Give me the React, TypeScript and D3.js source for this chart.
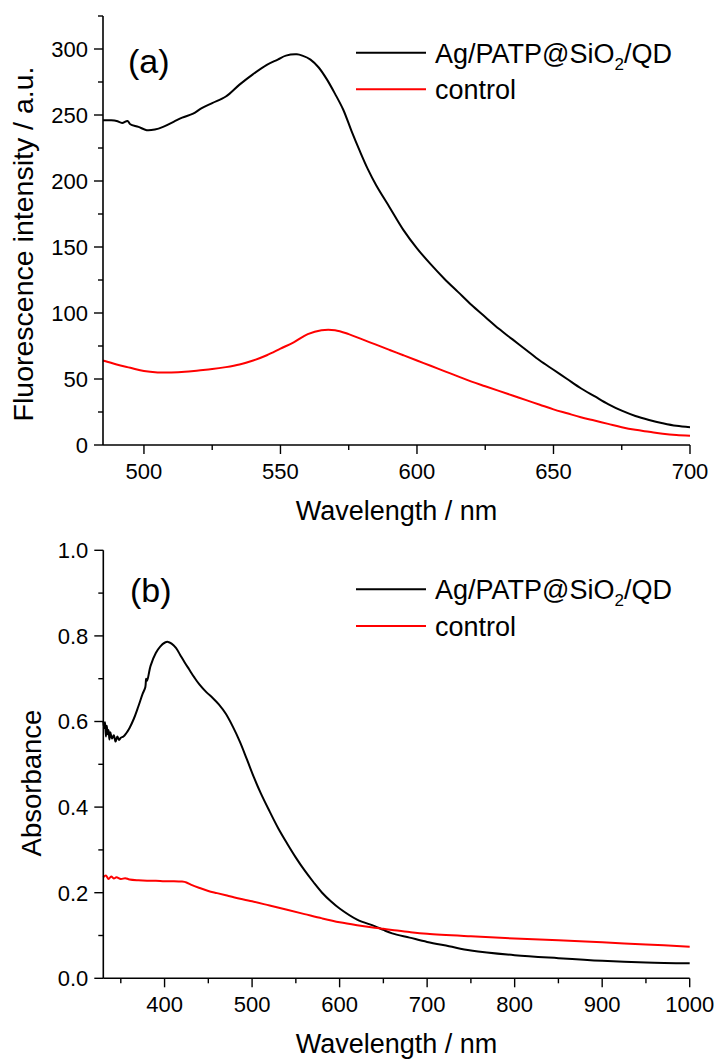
import React, { useEffect, useRef } from 'react';
import * as d3 from 'd3';

// ---- panel (a): fluorescence ----
const flWavelengthBlack = [485, 488, 490, 492, 494, 495, 498, 501, 504, 507, 511, 514, 518, 521, 525, 530, 535, 540, 545, 549, 552, 556, 558, 561, 564, 567, 570, 573, 576, 579, 582, 585, 590, 595, 600, 605, 610, 615, 620, 625, 630, 635, 640, 645, 650, 655, 660, 665, 670, 675, 680, 685, 690, 695, 700];
const flBlack = [246, 246, 245.5, 244, 245.5, 243, 241, 238.5, 239, 241, 245, 248, 251, 255, 259, 264, 273, 281, 288, 292, 295, 296, 295, 292, 286, 277, 266, 254, 238, 223, 209, 197, 180, 163, 149, 137, 126, 116, 106, 97, 88, 80, 72, 64, 57, 50, 43, 37, 31, 26, 22, 19, 16.5, 14.5, 13.5];
const flWavelengthRed = [485, 490, 495, 500, 505, 510, 515, 520, 525, 530, 535, 540, 545, 550, 555, 560, 565, 570, 575, 580, 585, 590, 595, 600, 605, 610, 615, 620, 625, 630, 635, 640, 645, 650, 655, 660, 665, 670, 675, 680, 685, 690, 695, 700];
const flRed = [64, 61, 58.5, 56, 55, 55, 55.5, 56.5, 57.5, 59, 61, 64, 68, 73, 78, 84, 87, 87, 84, 80, 76, 72, 68, 64, 60, 56, 52, 48, 44.5, 41, 37.5, 34, 30.5, 27, 24, 21, 18.5, 16, 13.5, 11.5, 10, 8.5, 7.5, 7];
const flXTicks = [500, 550, 600, 650, 700];
const flYTicks = [0, 50, 100, 150, 200, 250, 300];

// ---- panel (b): absorbance ----
const abWavelengthBlack = [330, 331, 332, 333, 334, 335, 336, 337, 338, 340, 342, 344, 346, 348, 350, 353, 356, 360, 365, 370, 375, 378, 379, 380, 384, 390, 395, 400, 404, 408, 413, 418, 423, 428, 434, 440, 448, 455, 462, 470, 478, 486, 494, 502, 510, 520, 530, 540, 550, 560, 570, 580, 590, 600, 620, 640, 650, 660, 680, 700, 725, 750, 800, 850, 900, 950, 1000];
const abBlack = [0.600, 0.585, 0.598, 0.565, 0.590, 0.570, 0.580, 0.558, 0.575, 0.560, 0.568, 0.553, 0.565, 0.557, 0.562, 0.565, 0.572, 0.585, 0.607, 0.635, 0.665, 0.680, 0.700, 0.695, 0.730, 0.760, 0.775, 0.784, 0.786, 0.782, 0.772, 0.755, 0.738, 0.722, 0.703, 0.686, 0.668, 0.655, 0.640, 0.618, 0.588, 0.553, 0.512, 0.470, 0.432, 0.390, 0.350, 0.315, 0.282, 0.252, 0.225, 0.200, 0.180, 0.163, 0.137, 0.122, 0.113, 0.105, 0.095, 0.085, 0.075, 0.065, 0.054, 0.047, 0.041, 0.037, 0.035];
const abWavelengthRed = [330, 333, 336, 339, 342, 345, 350, 355, 360, 370, 380, 390, 400, 410, 420, 425, 430, 440, 450, 460, 470, 480, 500, 520, 540, 560, 580, 600, 620, 640, 650, 660, 680, 700, 750, 800, 850, 900, 950, 1000];
const abRed = [0.236, 0.240, 0.232, 0.238, 0.233, 0.236, 0.232, 0.234, 0.231, 0.229, 0.228, 0.228, 0.227, 0.227, 0.226, 0.224, 0.219, 0.211, 0.204, 0.199, 0.194, 0.189, 0.180, 0.170, 0.160, 0.150, 0.140, 0.131, 0.124, 0.118, 0.1155, 0.113, 0.108, 0.104, 0.098, 0.093, 0.089, 0.084, 0.079, 0.074];
const abXTicks = [400, 500, 600, 700, 800, 900, 1000];
const abYTicks = [0, 0.2, 0.4, 0.6, 0.8, 1.0];

const seriesNames = ['Ag/PATP@SiO2/QD', 'control'];
const seriesColors = ['#000000', '#ff0000'];

const FONT = 'Liberation Sans, Arial, Helvetica, sans-serif';

type PanelProps = {
  box: { left: number; right: number; top: number; bottom: number };
  xDomain: [number, number];
  yDomain: [number, number];
  xTicks: number[];
  yTicks: number[];
  xMinorStep: number;
  yMinorStep: number;
  yFormat: (v: number) => string;
  series: { x: number[]; y: number[] }[];
  label: string;
  labelPos: [number, number];
  legendY: number;
  yTitle: string;
  yTitlePos: [number, number];
  yTitleSize: number;
};

const Panel = (p: PanelProps) => {
  const gRef = useRef<SVGGElement>(null);

  useEffect(() => {
    const g = d3.select(gRef.current);
    g.selectAll('*').remove();
    const { left, right, top, bottom } = p.box;

    const x = d3.scaleLinear().domain(p.xDomain).range([left, right]);
    const y = d3.scaleLinear().domain(p.yDomain).range([bottom, top]);

    // curves
    p.series.forEach((s, i) => {
      const pts = s.x.map((xv, j) => [xv, s.y[j]] as [number, number]);
      const line = d3.line<[number, number]>()
        .x(d => x(d[0]))
        .y(d => y(d[1]))
        .curve(d3.curveCatmullRom.alpha(0.5));
      g.append('path')
        .attr('d', line(pts))
        .attr('fill', 'none')
        .attr('stroke', seriesColors[i])
        .attr('stroke-width', 2)
        .attr('stroke-linejoin', 'round');
    });

    // axes lines
    g.append('line').attr('x1', left).attr('x2', right).attr('y1', bottom).attr('y2', bottom)
      .attr('stroke', '#000').attr('stroke-width', 1.6);
    g.append('line').attr('x1', left).attr('x2', left).attr('y1', top).attr('y2', bottom)
      .attr('stroke', '#000').attr('stroke-width', 1.6);

    // minor ticks
    const xMinor = d3.range(Math.ceil(p.xDomain[0] / p.xMinorStep) * p.xMinorStep, p.xDomain[1] + 0.001, p.xMinorStep)
      .filter(v => !p.xTicks.some(t => Math.abs(t - v) < 1e-6));
    const yMinor = d3.range(p.yDomain[0], p.yDomain[1] + 1e-6, p.yMinorStep)
      .filter(v => !p.yTicks.some(t => Math.abs(t - v) < 1e-6));

    g.selectAll('.xminor').data(xMinor).join('line')
      .attr('class', 'xminor')
      .attr('x1', d => x(d)).attr('x2', d => x(d))
      .attr('y1', bottom).attr('y2', bottom + 5)
      .attr('stroke', '#000').attr('stroke-width', 1.4);
    g.selectAll('.yminor').data(yMinor).join('line')
      .attr('class', 'yminor')
      .attr('x1', left - 5).attr('x2', left)
      .attr('y1', d => y(d)).attr('y2', d => y(d))
      .attr('stroke', '#000').attr('stroke-width', 1.4);

    // major ticks
    g.selectAll('.xmajor').data(p.xTicks).join('line')
      .attr('class', 'xmajor')
      .attr('x1', d => x(d)).attr('x2', d => x(d))
      .attr('y1', bottom).attr('y2', bottom + 9)
      .attr('stroke', '#000').attr('stroke-width', 1.4);
    g.selectAll('.ymajor').data(p.yTicks).join('line')
      .attr('class', 'ymajor')
      .attr('x1', left - 9).attr('x2', left)
      .attr('y1', d => y(d)).attr('y2', d => y(d))
      .attr('stroke', '#000').attr('stroke-width', 1.4);

    // tick labels
    g.selectAll('.xlab').data(p.xTicks).join('text')
      .attr('class', 'xlab')
      .attr('x', d => x(d)).attr('y', bottom + 34)
      .attr('text-anchor', 'middle')
      .style('font-family', FONT).style('font-size', '22px')
      .text(d => String(d));
    g.selectAll('.ylab').data(p.yTicks).join('text')
      .attr('class', 'ylab')
      .attr('x', left - 15).attr('y', d => y(d)).attr('dy', '0.36em')
      .attr('text-anchor', 'end')
      .style('font-family', FONT).style('font-size', '22px')
      .text(d => p.yFormat(d));

    // axis titles
    g.append('text')
      .attr('x', (left + right) / 2).attr('y', bottom + 75)
      .attr('text-anchor', 'middle')
      .style('font-family', FONT).style('font-size', '27px')
      .text('Wavelength / nm');
    g.append('text')
      .attr('transform', `translate(${p.yTitlePos[0]},${p.yTitlePos[1]}) rotate(-90)`)
      .attr('text-anchor', 'middle')
      .style('font-family', FONT).style('font-size', `${p.yTitleSize}px`)
      .text(p.yTitle);

    // panel label
    g.append('text')
      .attr('x', p.labelPos[0]).attr('y', p.labelPos[1])
      .style('font-family', FONT).style('font-size', '34px')
      .text(p.label);

    // legend
    seriesNames.forEach((name, i) => {
      const ly = p.legendY + i * 36.6;
      g.append('line')
        .attr('x1', 356).attr('x2', 426).attr('y1', ly).attr('y2', ly)
        .attr('stroke', seriesColors[i]).attr('stroke-width', 2);
      const t = g.append('text')
        .attr('x', 435).attr('y', ly + 10)
        .style('font-family', FONT).style('font-size', '27px');
      if (name.includes('SiO2')) {
        t.append('tspan').text('Ag/PATP@SiO');
        t.append('tspan').attr('dy', 7).style('font-size', '17px').text('2');
        t.append('tspan').attr('dy', -7).text('/QD');
      } else {
        t.text(name);
      }
    });
  }, [p]);

  return <g ref={gRef} />;
};

export default function App() {
  return (
    <svg width={716} height={1061} style={{ position: 'absolute', left: 0, top: 0, background: '#fff' }}>
      <rect width={716} height={1061} fill="#fff" />
      <Panel
        box={{ left: 103, right: 690, top: 16, bottom: 445 }}
        xDomain={[485, 700]}
        yDomain={[0, 325]}
        xTicks={flXTicks}
        yTicks={flYTicks}
        xMinorStep={25}
        yMinorStep={25}
        yFormat={d => String(d)}
        series={[{ x: flWavelengthBlack, y: flBlack }, { x: flWavelengthRed, y: flRed }]}
        label="(a)"
        labelPos={[128, 73]}
        legendY={52.7}
        yTitle="Fluorescence intensity / a.u."
        yTitlePos={[33, 244]}
        yTitleSize={28.5}
      />
      <Panel
        box={{ left: 103.3, right: 689.7, top: 550.3, bottom: 978.3 }}
        xDomain={[330, 1000]}
        yDomain={[0, 1]}
        xTicks={abXTicks}
        yTicks={abYTicks}
        xMinorStep={50}
        yMinorStep={0.1}
        yFormat={d => d.toFixed(1)}
        series={[{ x: abWavelengthBlack, y: abBlack }, { x: abWavelengthRed, y: abRed }]}
        label="(b)"
        labelPos={[130, 602]}
        legendY={589.3}
        yTitle="Absorbance"
        yTitlePos={[41, 783]}
        yTitleSize={27.5}
      />
    </svg>
  );
}
